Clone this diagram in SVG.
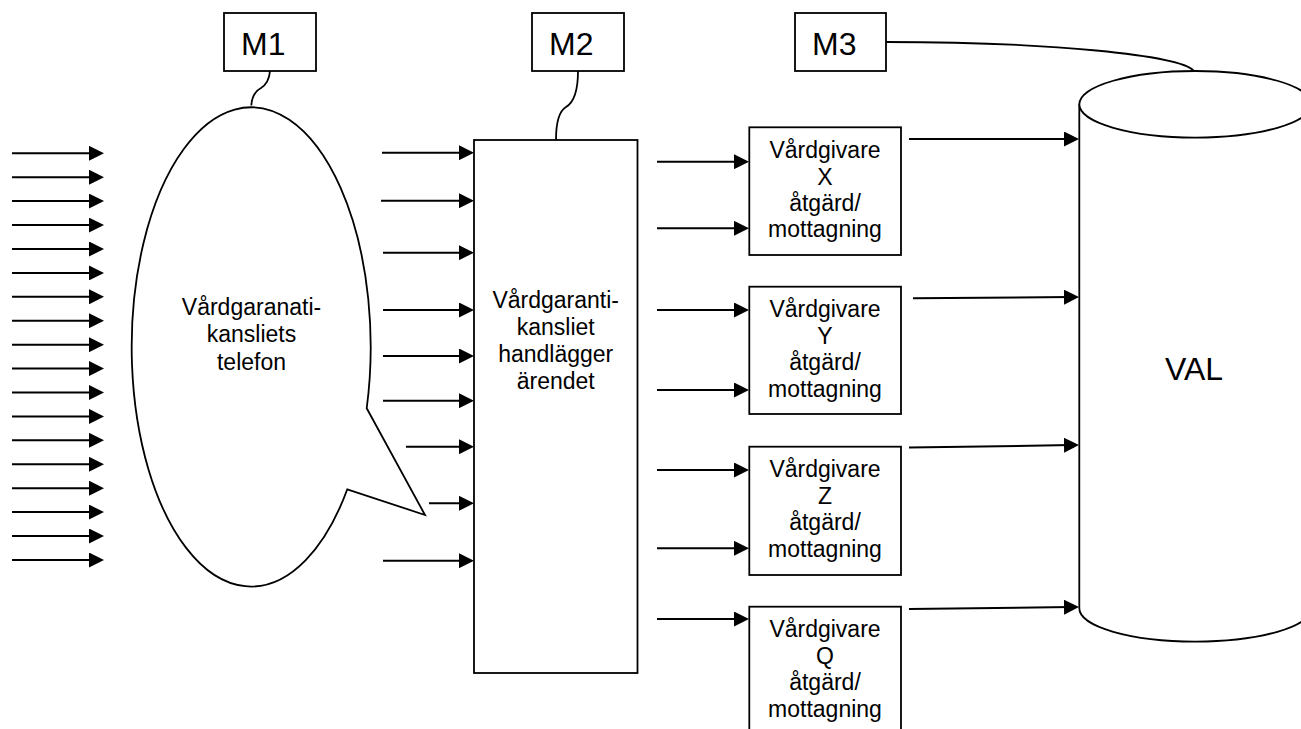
<svg xmlns="http://www.w3.org/2000/svg" width="1301" height="729" viewBox="0 0 1301 729">
<style>
.s{fill:#fff;stroke:#000;stroke-width:1.8}
.c{fill:none;stroke:#000;stroke-width:1.8}
.a{stroke:#000;stroke-width:2;fill:none;marker-end:url(#ah)}
.t{font-family:"Liberation Sans",Arial,sans-serif;font-size:23px;fill:#000;text-anchor:middle}
.m{font-family:"Liberation Sans",Arial,sans-serif;font-size:32px;fill:#000}
</style>
<defs>
<marker id="ah" viewBox="0 0 15 15" refX="7" refY="7.5" markerWidth="15" markerHeight="15" markerUnits="userSpaceOnUse" orient="auto">
<path d="M0,0 L15,7.5 L0,15 Z" fill="#000"/>
</marker>
</defs>
<rect width="1301" height="729" fill="#fff"/>

<g id="connectors">
<g id="left-arrows">
<line class="a" x1="12" y1="153.3" x2="96" y2="153.3"/>
<line class="a" x1="12" y1="177.2" x2="96" y2="177.2"/>
<line class="a" x1="12" y1="201.1" x2="96" y2="201.1"/>
<line class="a" x1="12" y1="225.1" x2="96" y2="225.1"/>
<line class="a" x1="12" y1="249" x2="96" y2="249"/>
<line class="a" x1="12" y1="272.9" x2="96" y2="272.9"/>
<line class="a" x1="12" y1="296.8" x2="96" y2="296.8"/>
<line class="a" x1="12" y1="320.7" x2="96" y2="320.7"/>
<line class="a" x1="12" y1="344.7" x2="96" y2="344.7"/>
<line class="a" x1="12" y1="368.6" x2="96" y2="368.6"/>
<line class="a" x1="12" y1="392.5" x2="96" y2="392.5"/>
<line class="a" x1="12" y1="416.4" x2="96" y2="416.4"/>
<line class="a" x1="12" y1="440.3" x2="96" y2="440.3"/>
<line class="a" x1="12" y1="464.3" x2="96" y2="464.3"/>
<line class="a" x1="12" y1="488.2" x2="96" y2="488.2"/>
<line class="a" x1="12" y1="512.1" x2="96" y2="512.1"/>
<line class="a" x1="12" y1="536" x2="96" y2="536"/>
<line class="a" x1="12" y1="560" x2="96" y2="560"/>
</g>
<g id="to-main">
<line class="a" x1="382" y1="152.7" x2="466" y2="152.7"/>
<line class="a" x1="381" y1="200.7" x2="466" y2="200.7"/>
<line class="a" x1="383" y1="252.7" x2="466" y2="252.7"/>
<line class="a" x1="383" y1="310" x2="466" y2="310"/>
<line class="a" x1="383" y1="356" x2="466" y2="356"/>
<line class="a" x1="383" y1="400.7" x2="466" y2="400.7"/>
<line class="a" x1="406" y1="446.7" x2="466" y2="446.7"/>
<line class="a" x1="429" y1="503.3" x2="466" y2="503.3"/>
<line class="a" x1="383" y1="560.7" x2="466" y2="560.7"/>
</g>
<g id="to-providers">
<line class="a" x1="657" y1="161.7" x2="741" y2="161.7"/>
<line class="a" x1="657" y1="228.3" x2="741" y2="228.3"/>
<line class="a" x1="657" y1="310" x2="741" y2="310"/>
<line class="a" x1="657" y1="390" x2="741" y2="390"/>
<line class="a" x1="657" y1="470" x2="741" y2="470"/>
<line class="a" x1="657" y1="548.3" x2="741" y2="548.3"/>
<line class="a" x1="657" y1="619" x2="741" y2="619"/>
</g>
<g id="to-val">
<line class="a" x1="909" y1="139" x2="1071" y2="139"/>
<line class="a" x1="913" y1="298.3" x2="1071" y2="297.1"/>
<line class="a" x1="909" y1="447.5" x2="1071" y2="445.1"/>
<line class="a" x1="909" y1="609" x2="1071" y2="607.1"/>
</g>
<g id="callouts">
<path class="c" d="M270,71 Q269,83 261,88 Q252,93 251.3,105.5"/>
<path class="c" d="M578,71 Q578,100 566,107 Q556,113 556,140"/>
<path class="c" d="M886,42 C1050,42 1180,55 1194,71"/>
</g>
</g>

<g id="m1">
<rect class="s" x="224" y="13" width="92" height="58"/>
<text class="m" x="241" y="55">M1</text>
</g>
<g id="m2">
<rect class="s" x="532" y="13" width="92" height="58"/>
<text class="m" x="549" y="55">M2</text>
</g>
<g id="m3">
<rect class="s" x="795" y="13" width="91" height="58"/>
<text class="m" x="812" y="55">M3</text>
</g>

<g id="telefon">
<path class="s" d="M366.7,408.3 L425,515 L347.3,489.3 A119.5,239.6 0 1 1 366.7,408.3 Z"/>
<text class="t"><tspan x="251.5" y="314.5">Vårdgaranati-</tspan><tspan x="251.5" y="342">kansliets</tspan><tspan x="251.5" y="369.5">telefon</tspan></text>
</g>

<g id="kansliet">
<rect class="s" x="474" y="140" width="163.5" height="533"/>
<text class="t"><tspan x="555.7" y="308.3">Vårdgaranti-</tspan><tspan x="555.7" y="335.3">kansliet</tspan><tspan x="555.7" y="362.3">handlägger</tspan><tspan x="555.7" y="389.3">ärendet</tspan></text>
</g>

<g id="vardgivare-x">
<rect class="s" x="749.3" y="127.3" width="151.7" height="127.7"/>
<text class="t"><tspan x="825" y="157.7">Vårdgivare</tspan><tspan x="825" y="184.5">X</tspan><tspan x="825" y="210.7">åtgärd/</tspan><tspan x="825" y="237">mottagning</tspan></text>
</g>
<g id="vardgivare-y">
<rect class="s" x="749.3" y="286.7" width="151.7" height="127.3"/>
<text class="t"><tspan x="825" y="317.2">Vårdgivare</tspan><tspan x="825" y="344">Y</tspan><tspan x="825" y="370.2">åtgärd/</tspan><tspan x="825" y="396.5">mottagning</tspan></text>
</g>
<g id="vardgivare-z">
<rect class="s" x="749.3" y="446.7" width="151.7" height="128.3"/>
<text class="t"><tspan x="825" y="477.2">Vårdgivare</tspan><tspan x="825" y="504">Z</tspan><tspan x="825" y="530.2">åtgärd/</tspan><tspan x="825" y="556.5">mottagning</tspan></text>
</g>
<g id="vardgivare-q">
<rect class="s" x="749.3" y="606.7" width="151.7" height="130"/>
<text class="t"><tspan x="825" y="637.2">Vårdgivare</tspan><tspan x="825" y="664">Q</tspan><tspan x="825" y="690.2">åtgärd/</tspan><tspan x="825" y="716.5">mottagning</tspan></text>
</g>

<g id="val">
<path class="s" d="M1079.3,104.3 L1079.3,608.3 A116,33.3 0 0 0 1311.3,608.3 L1311.3,104.3"/>
<ellipse class="s" cx="1195.3" cy="104.3" rx="116" ry="33.3"/>
<text class="m" x="1194" y="380" text-anchor="middle" font-size="36">VAL</text>
</g>
</svg>
